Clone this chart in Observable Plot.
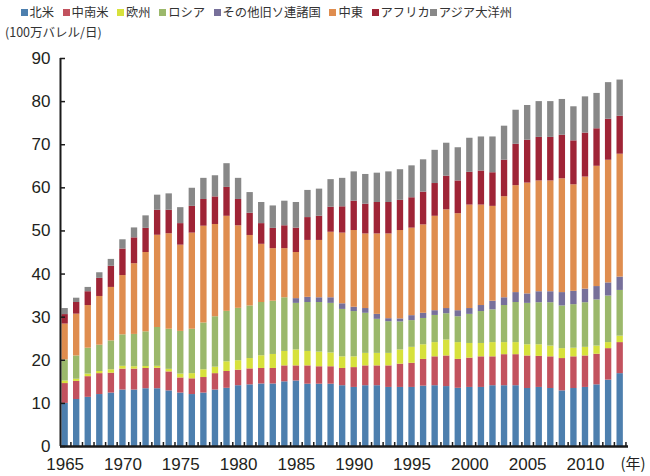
<!DOCTYPE html>
<html><head><meta charset="utf-8">
<script src="https://cdn.jsdelivr.net/npm/d3@7"></script>
<script src="https://cdn.jsdelivr.net/npm/@observablehq/plot@0.6"></script>
<style>
body{margin:0;background:#fff;width:650px;height:476px;overflow:hidden;font-family:"Noto Sans CJK JP",sans-serif;position:relative}
#legend{position:absolute;left:20.5px;top:2px;height:20px;display:flex;align-items:center;font-size:12.3px;color:#333;white-space:nowrap}
.item{display:flex;align-items:center;margin-right:8.5px}
.item.tight{margin-left:-8.5px}
.sw{width:7px;height:7px;margin-right:2px}
#ytitle{position:absolute;left:5px;top:22px;font-size:12.5px;color:#333;white-space:nowrap}
#chart{position:absolute;left:0;top:40px}
</style></head>
<body>
<div id="legend"></div>
<div id="ytitle">(100万バレル/日)</div>
<div id="chart"></div>
<script>
const years = [1965,1966,1967,1968,1969,1970,1971,1972,1973,1974,1975,1976,1977,1978,1979,1980,1981,1982,1983,1984,1985,1986,1987,1988,1989,1990,1991,1992,1993,1994,1995,1996,1997,1998,1999,2000,2001,2002,2003,2004,2005,2006,2007,2008,2009,2010,2011,2012,2013];
const regions = ["北米","中南米","欧州","ロシア","その他旧ソ連諸国","中東","アフリカ","アジア大洋州"];
const northAmerica = [10.0,10.9,11.4,12.05,12.4,13.1,13.1,13.4,13.4,12.9, 12.4,12.05,12.4,13.1,13.5,14.1,14.3,14.5,14.5,15.0, 15.2,14.45,14.45,14.45,14.1,13.7,14.1,14.1,13.7,13.7, 13.7,14.0,14.1,13.9,13.5,13.7,13.7,14.1,14.1,14.1, 13.45,13.7,13.45,12.9,13.45,13.7,14.3,15.4,16.9];
const latinAmerica = [4.6,4.2,4.8,4.85,4.6,4.85,4.85,4.7,4.75,4.4, 3.5,3.65,3.6,3.8,3.9,3.6,3.7,3.6,3.6,3.7, 3.5,4.25,4.05,4.05,4.0,4.6,4.6,4.6,5.0,5.4, 5.6,6.2,6.7,7.1,6.7,6.8,7.1,6.7,7.2,7.2, 7.55,7.2,7.35,7.5,7.35,7.3,7.1,7.3,7.2];
const europe = [0.6,0.5,0.6,0.5,0.8,0.65,0.55,0.45,0.45,0.6, 0.9,1.2,1.8,1.5,2.25,2.2,2.4,2.95,3.25,3.35, 3.7,3.35,3.4,3.2,2.7,2.5,2.9,2.9,2.9,3.3, 3.7,3.4,3.3,3.7,3.9,3.4,3.1,3.3,2.8,2.8, 2.6,2.7,2.5,2.3,2.0,2.0,1.9,1.4,1.5];
const russia = [4.9,5.4,6.0,6.1,6.7,7.3,7.5,8.05,9.0,9.3, 9.9,10.3,10.85,11.7,11.7,12.15,12.2,12.35,12.35,12.45, 10.8,11.35,11.5,11.5,11.0,10.5,9.3,7.9,7.35,6.5, 6.2,6.1,6.3,6.1,6.0,6.75,7.4,7.6,8.6,9.3, 9.6,9.75,10.05,9.9,10.1,10.35,10.7,10.8,10.6];
const otherFSU = [0,0,0,0,0,0,0,0,0,0, 0,0,0,0,0,0,0,0,0,0, 1.1,1.2,1.1,1.3,1.3,1.0,1.1,1.15,0.7,0.7, 1.15,1.2,1.1,1.2,1.4,1.35,1.4,2.0,1.8,2.3, 2.2,2.55,2.55,3.1,3.1,3.15,3.1,3.05,3.1];
const middleEast = [8.3,9.7,9.9,11.3,12.4,13.75,16.4,18.4,21.4,22.15, 20.0,22.3,22.45,21.4,22.05,19.15,16.35,13.5,12.2,11.4, 10.7,13.2,13.3,15.2,16.4,17.8,17.3,18.65,19.65,20.5, 20.3,20.5,21.9,22.9,22.5,24.0,23.3,22.0,23.45,24.8, 25.7,25.7,25.7,26.4,24.7,26.0,27.9,28.45,28.5];
const africa = [2.2,2.7,3.2,4.2,4.9,6.15,6.0,5.6,5.8,5.45, 5.0,6.2,6.2,6.4,6.7,6.1,5.15,4.8,4.7,5.3, 5.65,5.3,5.6,5.8,6.1,6.8,6.9,7.3,7.3,7.0, 7.05,7.6,7.6,7.8,7.6,7.6,7.9,7.8,8.45,9.6, 9.95,10.1,10.1,10.1,10.2,10.2,8.7,9.5,8.8];
const asiaPacific = [1.4,1.0,1.0,1.3,1.6,2.15,2.3,2.9,3.5,3.8, 3.7,4.2,4.9,4.9,5.5,4.9,4.8,4.9,5.2,5.7, 5.95,6.3,6.3,6.4,6.6,6.8,6.9,6.8,7.1,7.1, 7.4,7.5,7.7,7.65,7.7,7.9,7.9,8.3,7.9,7.9, 8.05,8.3,8.3,8.3,7.9,8.4,8.2,8.5,8.4];
const yTicks = [0,10,20,30,40,50,60,70,80,90];
const xLabels = [1965,1970,1975,1980,1985,1990,1995,2000,2005,2010];

const colors = ["#4d7fae","#c2525e","#d7e13c","#9bb86b","#77709a","#df8d4f","#9f2436","#888888"];
const series = [northAmerica, latinAmerica, europe, russia, otherFSU, middleEast, africa, asiaPacific];

const rows = [];
years.forEach((yr, i) => {
  regions.forEach((r, j) => {
    rows.push({year: yr, x1: yr - 0.5, x2: yr + 0.5, region: r, value: series[j][i]});
  });
});
const midTicks = years.map(y => y + 0.5);

// legend
const leg = document.getElementById("legend");
regions.forEach((r, j) => {
  const it = document.createElement("div");
  it.className = "item" + (j === 7 ? " tight" : "");
  it.innerHTML = `<span class="sw" style="background:${colors[j]}"></span><span>${r}</span>`;
  leg.appendChild(it);
});

const chart = Plot.plot({
  width: 650,
  height: 436,
  marginLeft: 60,
  marginRight: 22,
  marginTop: 18,
  marginBottom: 30,
  style: {fontFamily: "'Liberation Sans', Arial, sans-serif", color: "#231f20", background: "#fff"},
  x: {domain: [1964.6, 2013.72], label: null},
  y: {domain: [0, 90], label: null},
  color: {domain: regions, range: colors},
  marks: [
    Plot.rectY(rows, {x1: "x1", x2: "x2", y: "value", fill: "region", order: regions, insetLeft: 2.6, insetRight: 2.6}),
    Plot.ruleY([0], {stroke: "#1a1a1a", strokeWidth: 2.5}),
    Plot.ruleX([1964.6], {stroke: "#1a1a1a", strokeWidth: 2}),
    Plot.axisY({ticks: yTicks, tickSize: 0, tickPadding: 10, fontSize: 17, label: null}),
    Plot.axisY({ticks: yTicks, tickSize: 5, dx: 5, tickFormat: () => "", label: null, stroke: "#1a1a1a", strokeWidth: 1.5}),
    Plot.axisX({ticks: xLabels, tickSize: 0, tickPadding: 11, fontSize: 17, tickFormat: d => String(d), label: null}),
    Plot.axisX({ticks: midTicks, tickSize: 4, dy: -4, tickFormat: () => "", label: null, stroke: "#1a1a1a", strokeWidth: 1.5}),
    Plot.text(["(年)"], {frameAnchor: "bottom-right", dx: -8, dy: 18, textAnchor: "start", lineAnchor: "middle", fontSize: 15, fontFamily: "'Noto Sans CJK JP', sans-serif", fill: "#231f20"})
  ]
});
document.getElementById("chart").appendChild(chart);
</script>
</body></html>
